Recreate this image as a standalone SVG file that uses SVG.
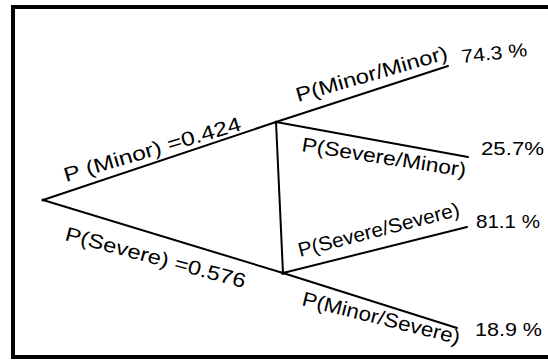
<svg xmlns="http://www.w3.org/2000/svg" width="548" height="363" viewBox="0 0 548 363">
<style>
.edge{stroke:#000;stroke-width:2;fill:none;stroke-linecap:round}
.lbl{font-family:"Liberation Sans","DejaVu Sans",sans-serif;font-size:20px;fill:#000}
.pct{font-family:"Liberation Sans","DejaVu Sans",sans-serif;font-size:19px;fill:#000}
</style>
<rect x="13" y="7" width="540" height="350" fill="#fff" stroke="#000" stroke-width="4"/>
<g id="connectors">
<line class="edge" x1="43" y1="200" x2="276" y2="122"/>
<line class="edge" x1="43" y1="200" x2="283" y2="273"/>
<line class="edge" x1="276" y1="122" x2="283" y2="273"/>
<line class="edge" x1="276" y1="122" x2="448" y2="66"/>
<line class="edge" x1="276" y1="122" x2="468" y2="157"/>
<line class="edge" x1="283" y1="273" x2="467" y2="227"/>
<line class="edge" x1="283" y1="273" x2="457" y2="328"/>
</g>
<g id="edge-labels">
<text class="lbl" transform="translate(66,182) rotate(-16.5)" textLength="184" lengthAdjust="spacingAndGlyphs">P (Minor) =0.424</text>
<text class="lbl" transform="translate(64,240) rotate(15)" textLength="186" lengthAdjust="spacingAndGlyphs">P(Severe) =0.576</text>
<text class="lbl" transform="translate(298,102) rotate(-16)" textLength="157" lengthAdjust="spacingAndGlyphs">P(Minor/Minor)</text>
<text class="lbl" transform="translate(301,151) rotate(9)" textLength="166" lengthAdjust="spacingAndGlyphs">P(Severe/Minor)</text>
<text class="lbl" transform="translate(300,257) rotate(-14.5)" textLength="166" lengthAdjust="spacingAndGlyphs">P(Severe/Severe)</text>
<text class="lbl" transform="translate(301,305) rotate(14)" textLength="162" lengthAdjust="spacingAndGlyphs">P(Minor/Severe)</text>
</g>
<g id="root"><circle cx="43" cy="200" r="1.5" fill="#000"/></g>
<g id="node-minor"><circle cx="276" cy="122" r="1.5" fill="#000"/></g>
<g id="node-severe"><circle cx="283" cy="273" r="2" fill="#000"/></g>
<g id="out-mm"><text class="pct" transform="translate(462,63) rotate(-6)" textLength="66" lengthAdjust="spacingAndGlyphs">74.3 %</text></g>
<g id="out-sm"><text class="pct" x="481" y="155" textLength="63" lengthAdjust="spacingAndGlyphs">25.7%</text></g>
<g id="out-ss"><text class="pct" x="476" y="228" textLength="64" lengthAdjust="spacingAndGlyphs">81.1 %</text></g>
<g id="out-ms"><text class="pct" x="475" y="336" textLength="67" lengthAdjust="spacingAndGlyphs">18.9 %</text></g>
</svg>
